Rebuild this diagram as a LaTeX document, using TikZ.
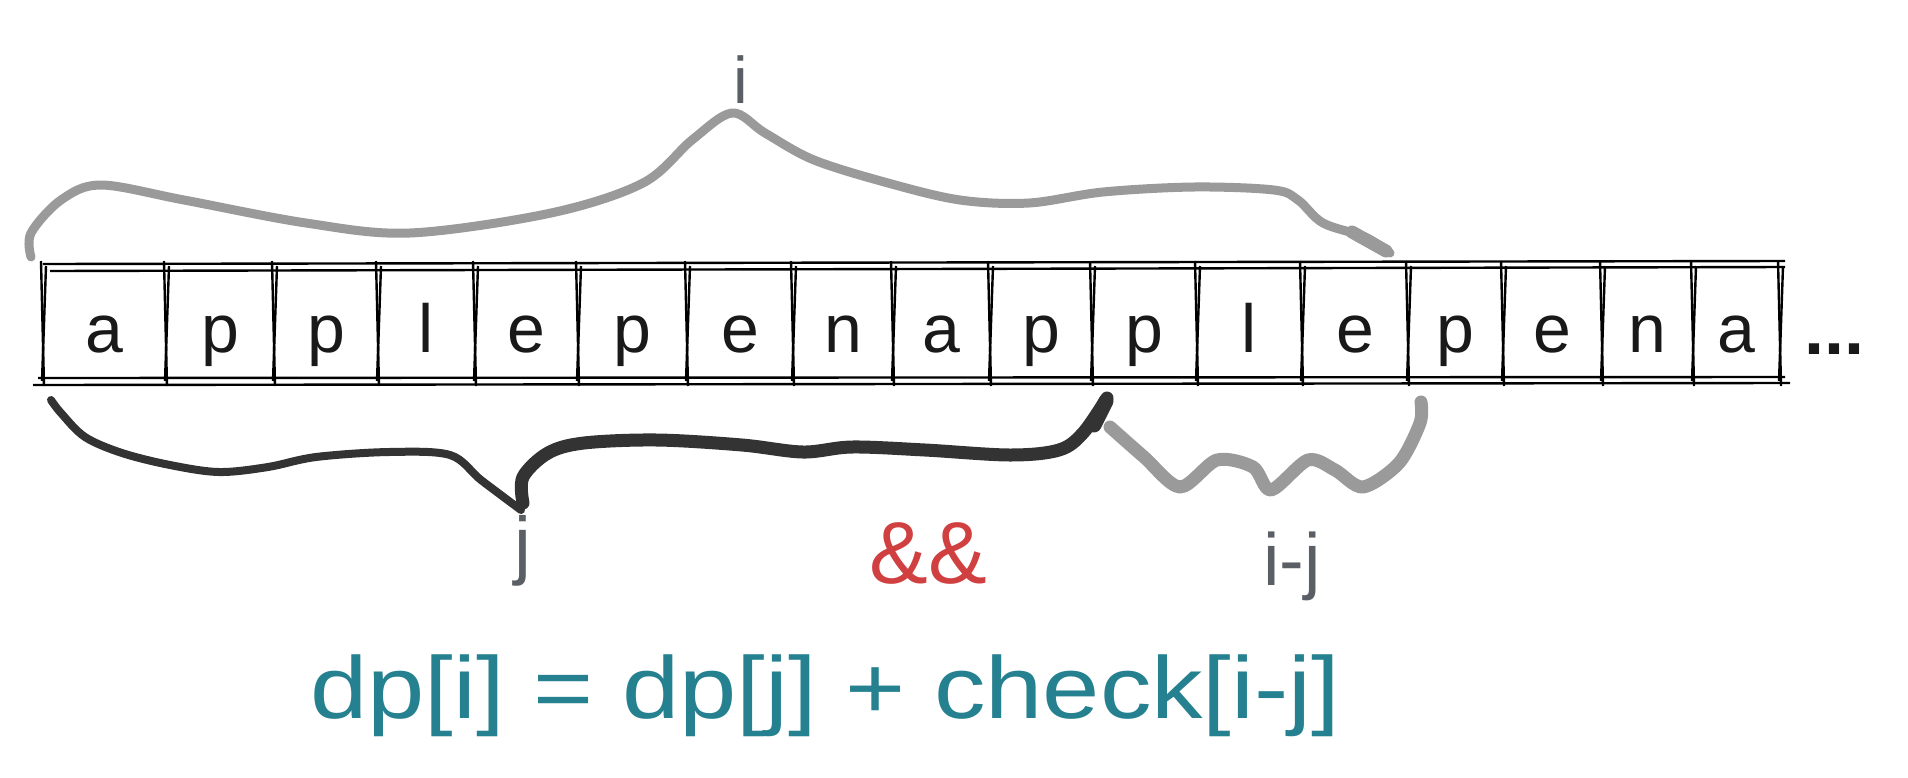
\documentclass[tikz,border=0pt]{standalone}
\usepackage{fontspec}
\setmainfont{Liberation Sans}
\definecolor{tealtxt}{HTML}{25818F}
\definecolor{redtxt}{HTML}{D04040}
\definecolor{lbltxt}{HTML}{5A5F66}
\definecolor{lightbr}{HTML}{9A9A9A}
\definecolor{darkbr}{HTML}{333333}
\tikzset{
  cellchar/.style={anchor=base, inner sep=0pt, font=\fontsize{68}{72}\selectfont, text=black!90},
  cellline/.style={line width=2.4pt, black},
  lightbrace/.style={line width=9pt, lightbr, line cap=round, line join=round},
  darkbrace/.style={line width=8pt, darkbr, line cap=round, line join=round},
  lbl/.style={anchor=base, inner sep=0pt, font=\fontsize{66}{70}\selectfont, text=lbltxt},
  amp/.style={anchor=base, inner sep=0pt, font=\fontsize{88}{90}\selectfont, text=redtxt},
  formula/.style={anchor=base west, inner sep=0pt, font=\fontsize{88}{95}\selectfont, text=tealtxt}
}
\begin{document}
\begin{tikzpicture}[x=1pt,y=-1pt]
\useasboundingbox (0,0) rectangle (1908,777);

% top brace (i)
\draw[lightbrace] plot[smooth, tension=0.55] coordinates {
  (31,257) (31,233) (61,200) (101,185) (184,200) (306,223) (410,233) (551,213)
  (643,183) (692,140) (732,113) (765,133) (814,160) (888,183) (960,200)
  (1029,203) (1103,192) (1194,187) (1274,190) (1298,200) (1323,223) (1365,237) (1390,253)};
\draw[line width=13pt, lightbr, line cap=round] (1352,232) -- (1386,251);

% cell letters
\foreach \l/\xa/\xb [count=\k] in {a/43/166, p/166/274, p/274/378, l/378/475, e/475/578,
   p/578/687, e/687/793, n/793/893, a/893/990, p/990/1092, p/1092/1197, l/1197/1302,
   e/1302/1408, p/1408/1503, e/1503/1602, n/1602/1693, a/1693/1780}
  \node[cellchar] (c\k) at ({(\xa+\xb)/2},352) {\l};
\node[cellchar, anchor=base west, font=\bfseries\fontsize{72}{72}\selectfont] (dots) at (1804,354) {...};

% cell grid (sketchy double lines)
\draw[cellline] (43,264) -- (1785,261);
\draw[cellline] (50,271) -- (1785,267);
\draw[cellline] (38,378) -- (1785,377);
\draw[cellline] (33,385) -- (1790,383);
\foreach \x [count=\k] in {43,166,274,378,475,578,687,793,893,990,1092,1197,1302,1408,1503,1602,1693,1780}{
  \draw[cellline] (\x-2,261) -- (\x+1,386);
  \draw[cellline] (\x+3,266) -- (\x-1,381);
}

% bottom dark brace (j)
\draw[darkbrace] plot[smooth, tension=0.55] coordinates {
  (51,400) (61,413) (85,437) (122,453) (170,465) (219,472) (268,467) (316,457)
  (389,452) (450,455) (481,480) (521,510)};
\draw[darkbrace, line width=13pt] plot[smooth, tension=0.55] coordinates {
  (523,503) (523,477) (548,453) (584,443) (657,440) (742,445) (803,452) (852,447)
  (925,450) (1010,455) (1059,450) (1083,433) (1107,398)};
\draw[line width=15pt, darkbr, line cap=round] (1094,425) -- (1106,401);

% small light brace (i-j)
\draw[lightbrace, line width=13pt] plot[smooth, tension=0.5] coordinates {
  (1110,427) (1144,457) (1180,487) (1217,460) (1253,467) (1271,490) (1308,460)
  (1335,470) (1363,487) (1399,463) (1420,423) (1421,402)};

% labels
\node[lbl] (li) at (741,103) {i};
\node[lbl, font=\fontsize{76}{80}\selectfont] (lj) at (523,570) {j};
\node[amp] (and) at (928,583) {\&\&};
\node[lbl, font=\fontsize{74}{80}\selectfont] (lij) at (1292,585) {i-j};
\node[formula] (eq) at (310,718) {\scalebox{1.17}[1]{dp[i] = dp[j] + check[i-j]}};
\end{tikzpicture}
\end{document}
